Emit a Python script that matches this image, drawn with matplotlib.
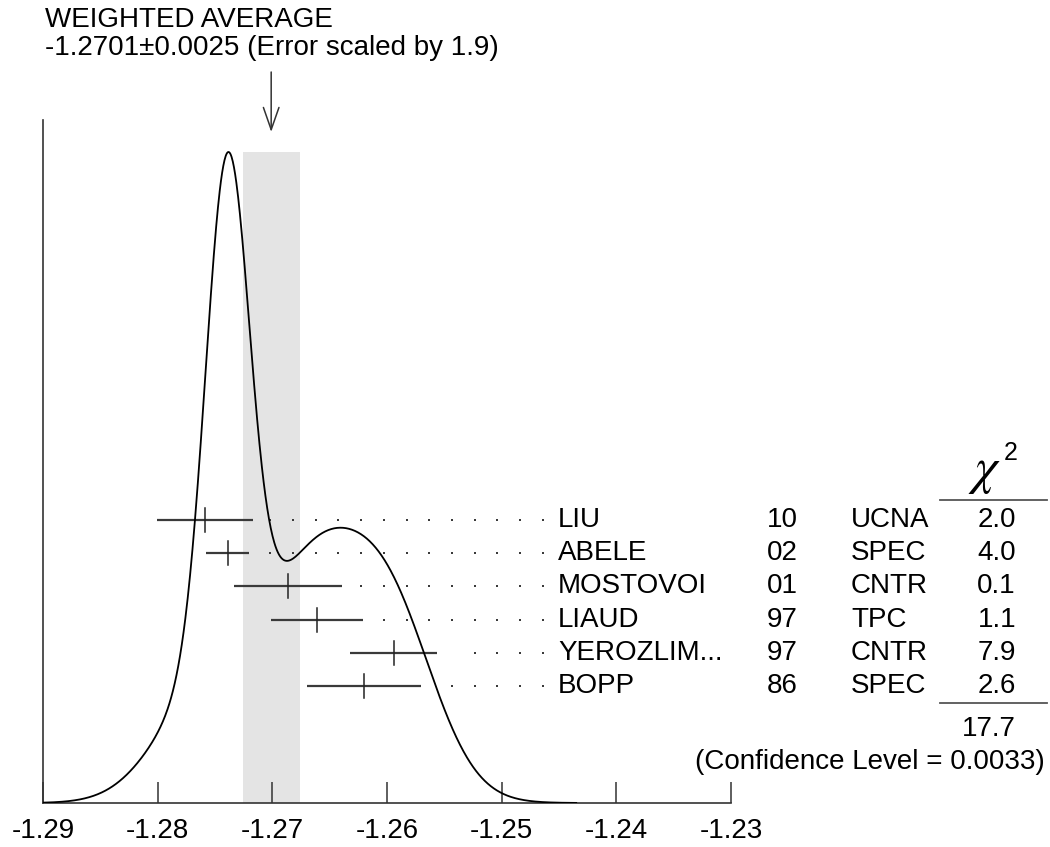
import numpy as np
import matplotlib.pyplot as plt
from matplotlib.lines import Line2D

plt.rcParams['font.family'] = ['Liberation Sans', 'DejaVu Sans']

# measurements (value, error) and their table entries
names = ['LIU', 'ABELE', 'MOSTOVOI', 'LIAUD', 'YEROZLIM...', 'BOPP']
years = ['10', '02', '01', '97', '97', '86']
techs = ['UCNA', 'SPEC', 'CNTR', 'TPC', 'CNTR', 'SPEC']
values = [-1.2759, -1.2739, -1.2686, -1.2661, -1.2594, -1.2620]
errors = [0.0042, 0.0019, 0.0047, 0.0040, 0.0038, 0.0050]
chi2 = ['2.0', '4.0', '0.1', '1.1', '7.9', '2.6']
chi2_total = '17.7'
conf_level = '0.0033'

# weighted average
avg = -1.2701
avg_err = 0.0025
err_scale = 1.9

xticks = [-1.29, -1.28, -1.27, -1.26, -1.25, -1.24, -1.23]

W, H = 1050, 847
FS = 20


def px(x, y):
    """pixel position (from top-left) -> figure fraction"""
    return x / W, 1 - y / H


fig = plt.figure(figsize=(W / 100, H / 100), dpi=100)
ax = fig.add_axes([43 / W, (H - 803) / H, 688 / W, 683 / H])
ax.set_xlim(-1.29, -1.23)
ax.set_ylim(0, 683)

# ideogram: one gaussian per measurement, area ~ 1/sigma
v = np.array(values)
e = np.array(errors)
xs = np.linspace(-1.29, -1.2435, 900)
ideo = (np.exp(-0.5 * ((xs[:, None] - v) / e) ** 2) / e ** 2).sum(axis=1)
peak = 651
curve = ideo / ideo.max() * peak

ax.fill_between([avg - avg_err, avg + avg_err], 0, peak, color='#e4e4e4', lw=0, zorder=0)
ax.plot(xs, curve, color='black', lw=1.3, zorder=4)

# error bars + dotted leaders
dot_grid = -1.27017 + 0.00198 * np.arange(-15, 13)
for i in range(len(values)):
    y_pix = 520 + 33.2 * i
    h = 803 - y_pix
    ax.plot([v[i] - e[i], v[i] + e[i]], [h, h], color='#3a3a3a', lw=1.6,
            solid_capstyle='butt', zorder=3)
    ax.plot([v[i], v[i]], [h - 12, h + 12], color='#222222', lw=1.1, zorder=3)
    dots = dot_grid[dot_grid > v[i] + e[i] + 0.0014]
    ax.plot(dots, np.full(len(dots), h), ls='none', marker='s', ms=1.8,
            mew=0, color='#3a3a3a', zorder=2)

    fig.text(*px(558, y_pix), names[i], va='center', fontsize=FS)
    fig.text(*px(767, y_pix), years[i], va='center', fontsize=FS)
    fig.text(*px(851, y_pix), techs[i], va='center', fontsize=FS)
    fig.text(*px(1016, y_pix), chi2[i], va='center', ha='right', fontsize=FS)

# axes styling
for side in ['top', 'right']:
    ax.spines[side].set_visible(False)
for side in ['left', 'bottom']:
    ax.spines[side].set_color('#333333')
    ax.spines[side].set_linewidth(1.2)
ax.set_yticks([])
ax.set_xticks(xticks)
ax.set_xticklabels([f'{t:.2f}' for t in xticks])
ax.tick_params(axis='x', direction='in', length=15, width=1.1, color='#333333',
               pad=11, labelsize=FS)

# weighted average label and arrow
fig.text(*px(45, 20), 'WEIGHTED AVERAGE', va='center', fontsize=FS)
fig.text(*px(45, 48), f'{avg:.4f}\u00b1{avg_err:.4f} (Error scaled by {err_scale})',
         va='center', fontsize=FS)
ax.annotate('', xy=(avg, H - 132), xycoords=('data', 'figure pixels'),
            xytext=(avg, H - 72), textcoords=('data', 'figure pixels'),
            arrowprops=dict(arrowstyle='->,head_length=0.8,head_width=0.28',
                            lw=1.1, color='#333333', mutation_scale=20,
                            shrinkA=0, shrinkB=0))

# chi-square column header, rules and totals
fig.text(*px(985, 471), r'$\chi$', ha='center', va='center', fontsize=37,
         math_fontfamily='stix')
fig.text(*px(1011, 453), '2', ha='center', va='center', fontsize=18)
for y_rule in [500, 703]:
    fig.add_artist(Line2D([940 / W, 1047 / W], [1 - y_rule / H] * 2,
                          color='#555555', lw=1.3))
fig.text(*px(1016, 729), chi2_total, va='center', ha='right', fontsize=FS)
fig.text(*px(1045, 762), f'(Confidence Level = {conf_level})', va='center',
         ha='right', fontsize=FS)

fig.savefig('out.png', dpi=100)
